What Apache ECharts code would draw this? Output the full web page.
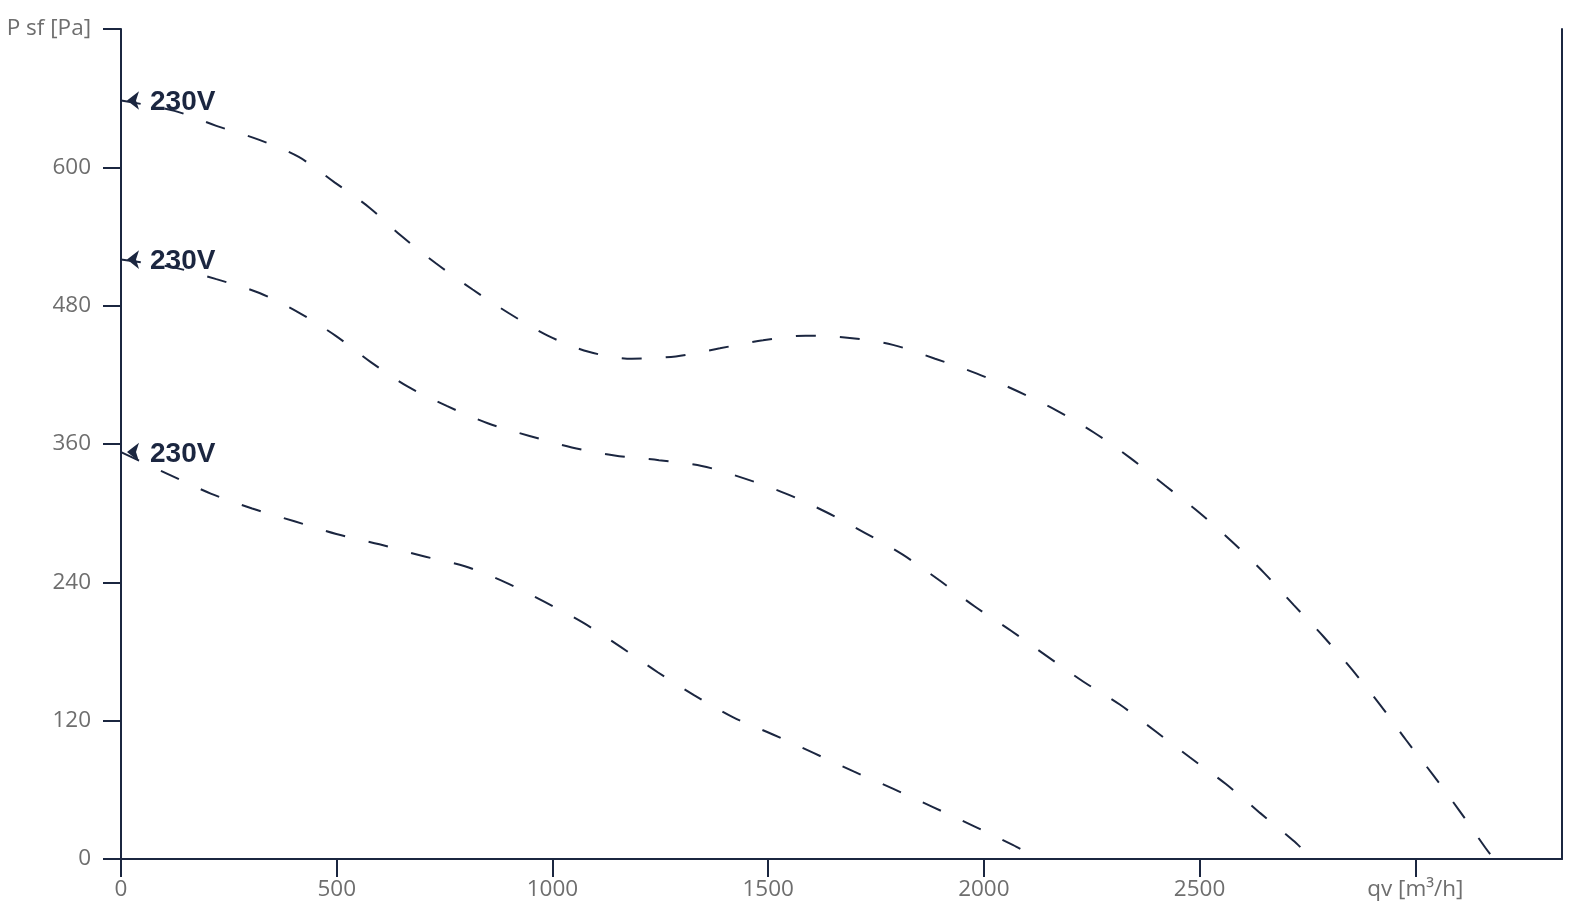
<!DOCTYPE html>
<html>
<head>
<meta charset="utf-8">
<script src="https://cdn.jsdelivr.net/npm/echarts@6/dist/echarts.min.js"></script>
<style>
html,body{margin:0;padding:0;background:#fff;}
#chart{width:1571px;height:914px;}
</style>
</head>
<body>
<div id="chart"></div>
<script>
// Curve labels
const curveLabels = ['230V', '230V', '230V'];

// Top curve
const qv1 = [0, 124, 221, 319, 412, 495, 576, 648, 729, 815, 901, 989, 1084, 1184, 1286, 1388, 1488, 1587, 1689, 1789, 1887, 1984, 2077, 2169, 2255, 2339, 2420, 2501, 2576, 2650, 2719, 2787, 2854, 2918, 2979, 3041, 3102, 3162, 3182];
const ps1 = [658, 649, 636, 624, 609, 587, 565, 541, 517, 494, 473, 454, 440, 434, 436, 443, 450, 454, 452, 446, 434, 421, 406, 389, 370, 348, 324, 300, 275, 248, 220, 193, 164, 134, 103, 73, 42, 10, 0];

// Middle curve
const qv2 = [0, 124, 221, 321, 412, 497, 579, 664, 755, 850, 947, 1045, 1144, 1247, 1346, 1446, 1541, 1634, 1724, 1812, 1896, 1979, 2063, 2146, 2230, 2315, 2397, 2478, 2561, 2640, 2717, 2740];
const ps2 = [520, 513, 503, 491, 474, 454, 431, 410, 393, 378, 367, 357, 350, 346, 341, 330, 317, 301, 283, 264, 242, 219, 198, 176, 154, 134, 111, 88, 65, 40, 16, 8];

// Bottom curve
const qv3 = [0, 114, 208, 304, 402, 499, 599, 697, 797, 891, 982, 1071, 1158, 1244, 1329, 1418, 1511, 1605, 1698, 1789, 1882, 1974, 2068, 2088];
const ps3 = [353, 333, 317, 304, 293, 282, 273, 263, 254, 240, 223, 205, 184, 162, 142, 123, 108, 92, 76, 61, 45, 29, 12, 8];

// Axis ticks
const xTicks = [0, 500, 1000, 1500, 2000, 2500, 3000];
const xTickLabels = ['0', '500', '1000', '1500', '2000', '2500', 'qv [m³/h]'];
const yTicks = [0, 120, 240, 360, 480, 600, 720];
const yTickLabels = ['0', '120', '240', '360', '480', '600', 'P sf [Pa]'];

const navy = '#1b2640';
const grey = '#6e6e6e';
const font = '"Open Sans", "Noto Sans", sans-serif';

function buildSeries(xs, ys, label) {
  const data = xs.map((x, i) => [x, ys[i]]);
  data[0] = {
    value: data[0],
    symbol: 'arrow',
    symbolSize: [14, 12],
    symbolRotate: 90,
    symbolOffset: [6, 0],
    label: {
      show: true,
      formatter: label,
      position: 'right',
      distance: 11,
      offset: [0, 2],
      color: navy,
      fontSize: 28,
      fontWeight: 'bold',
      fontFamily: '"Liberation Sans", Arial, sans-serif'
    }
  };
  return {
    type: 'line',
    data: data,
    smooth: 0.3,
    symbol: 'none',
    showSymbol: true,
    showAllSymbol: true,
    itemStyle: { color: navy },
    lineStyle: { color: navy, width: 2, type: [20, 24] },
    silent: true,
    z: 3
  };
}

const chart = echarts.init(document.getElementById('chart'), null, { renderer: 'canvas' });
chart.setOption({
  animation: false,
  backgroundColor: '#fff',
  grid: { left: 121, right: 9, top: 29, bottom: 55, containLabel: false },
  xAxis: {
    type: 'value',
    min: 0,
    max: 3340,
    interval: 500,
    splitLine: { show: false },
    axisLine: { lineStyle: { color: navy, width: 2 } },
    axisTick: { length: 18, lineStyle: { color: navy, width: 2 }, customValues: xTicks },
    axisLabel: {
      customValues: xTicks,
      formatter: v => { const i = xTicks.indexOf(v); return i >= 0 ? xTickLabels[i] : ''; },
      color: grey, fontSize: 22.5, fontFamily: font, margin: 19
    }
  },
  yAxis: [{
    type: 'value',
    min: 0,
    max: 720,
    interval: 120,
    splitLine: { show: false },
    axisLine: { show: true, lineStyle: { color: navy, width: 2 } },
    axisTick: { show: true, length: 18, lineStyle: { color: navy, width: 2 } },
    axisLabel: {
      formatter: v => { const i = yTicks.indexOf(v); return i >= 0 ? yTickLabels[i] : ''; },
      color: grey, fontSize: 22.5, fontFamily: font, margin: 30
    }
  }, {
    type: 'value',
    position: 'right',
    min: 0,
    max: 720,
    splitLine: { show: false },
    axisLine: { show: true, lineStyle: { color: navy, width: 2 } },
    axisTick: { show: false },
    axisLabel: { show: false }
  }],
  series: [
    buildSeries(qv1, ps1, curveLabels[0]),
    buildSeries(qv2, ps2, curveLabels[1]),
    buildSeries(qv3, ps3, curveLabels[2])
  ]
});
</script>
</body>
</html>
